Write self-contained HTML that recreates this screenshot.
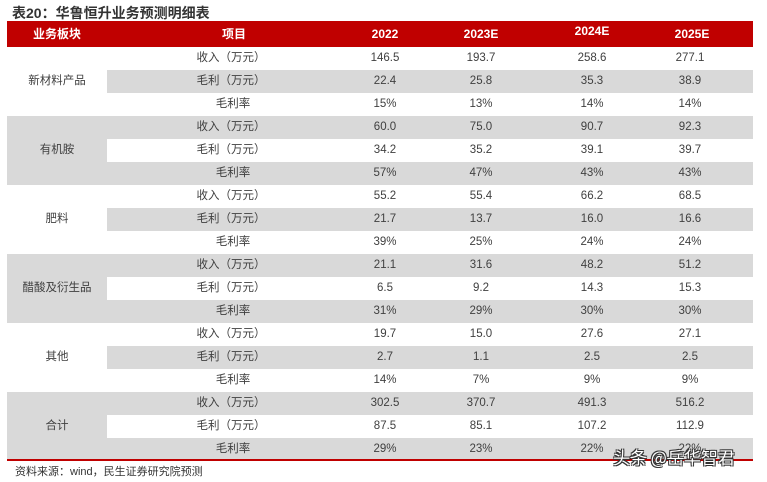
<!DOCTYPE html>
<html><head><meta charset="utf-8">
<style>
*{margin:0;padding:0;box-sizing:border-box}
html,body{width:767px;height:482px;background:#fff;overflow:hidden;position:relative;font-family:"Liberation Sans","Noto Sans CJK SC",sans-serif}
.t{position:absolute;left:12px;top:3px;font-size:14px;font-weight:bold;color:#333;line-height:20px;white-space:nowrap}
.hd{position:absolute;left:7px;top:21px;width:746px;height:26px;background:#c00000}
.h{position:absolute;width:100px;text-align:center;color:#fff;font-weight:bold;font-size:12px;line-height:16px;top:26px;white-space:nowrap}
.g{position:absolute;background:#d9d9d9}
.c{position:absolute;width:100px;text-align:center;height:23px;line-height:23px;font-size:11.5px;color:#404040;white-space:nowrap}
.k{left:181px}.a{left:335px}.b{left:431px}.d{left:542px}.e{left:640px}
.gl{position:absolute;left:7px;width:100px;height:69px;line-height:69px;text-align:center;font-size:11.5px;color:#404040}
.rl{position:absolute;left:7px;top:459px;width:746px;height:2px;background:#c00000}
.f{position:absolute;left:15px;top:464px;font-size:11px;color:#333;line-height:16px;white-space:nowrap}
.w{position:absolute;left:613px;top:446px;font-size:17px;color:#fff;line-height:22px;white-space:nowrap;font-family:"Noto Sans CJK SC",sans-serif;text-shadow:-1px -1px 0 #333,1px -1px 0 #333,-1px 1px 0 #333,1px 1px 0 #333}
</style></head><body>
<div class="t">表20：华鲁恒升业务预测明细表</div>
<div class="hd"></div>
<div class="h" style="left:7px">业务板块</div>
<div class="h" style="left:184px">项目</div>
<div class="h" style="left:335px">2022</div>
<div class="h" style="left:431px">2023E</div>
<div class="h" style="left:542px;top:23px">2024E</div>
<div class="h" style="left:642px">2025E</div>

<!-- stripes -->
<div class="g" style="left:107px;top:70px;width:646px;height:23px"></div>
<div class="g" style="left:7px;top:116px;width:746px;height:23px"></div>
<div class="g" style="left:7px;top:139px;width:100px;height:23px"></div>
<div class="g" style="left:7px;top:162px;width:746px;height:23px"></div>
<div class="g" style="left:107px;top:208px;width:646px;height:23px"></div>
<div class="g" style="left:7px;top:254px;width:746px;height:23px"></div>
<div class="g" style="left:7px;top:277px;width:100px;height:23px"></div>
<div class="g" style="left:7px;top:300px;width:746px;height:23px"></div>
<div class="g" style="left:107px;top:346px;width:646px;height:23px"></div>
<div class="g" style="left:7px;top:392px;width:746px;height:23px"></div>
<div class="g" style="left:7px;top:415px;width:100px;height:23px"></div>
<div class="g" style="left:7px;top:438px;width:746px;height:23px"></div>

<div class="gl" style="top:47px">新材料产品</div>
<div class="gl" style="top:116px">有机胺</div>
<div class="gl" style="top:185px">肥料</div>
<div class="gl" style="top:254px">醋酸及衍生品</div>
<div class="gl" style="top:323px">其他</div>
<div class="gl" style="top:392px">合计</div>

<!-- group 1 -->
<div class="c k" style="top:47px">收入（万元）</div><div class="c a" style="top:47px">146.5</div><div class="c b" style="top:47px">193.7</div><div class="c d" style="top:47px">258.6</div><div class="c e" style="top:47px">277.1</div>
<div class="c k" style="top:70px">毛利（万元）</div><div class="c a" style="top:70px">22.4</div><div class="c b" style="top:70px">25.8</div><div class="c d" style="top:70px">35.3</div><div class="c e" style="top:70px">38.9</div>
<div class="c k" style="top:93px;left:183px">毛利率</div><div class="c a" style="top:93px">15%</div><div class="c b" style="top:93px">13%</div><div class="c d" style="top:93px">14%</div><div class="c e" style="top:93px">14%</div>
<!-- group 2 -->
<div class="c k" style="top:116px">收入（万元）</div><div class="c a" style="top:116px">60.0</div><div class="c b" style="top:116px">75.0</div><div class="c d" style="top:116px">90.7</div><div class="c e" style="top:116px">92.3</div>
<div class="c k" style="top:139px">毛利（万元）</div><div class="c a" style="top:139px">34.2</div><div class="c b" style="top:139px">35.2</div><div class="c d" style="top:139px">39.1</div><div class="c e" style="top:139px">39.7</div>
<div class="c k" style="top:162px;left:183px">毛利率</div><div class="c a" style="top:162px">57%</div><div class="c b" style="top:162px">47%</div><div class="c d" style="top:162px">43%</div><div class="c e" style="top:162px">43%</div>
<!-- group 3 -->
<div class="c k" style="top:185px">收入（万元）</div><div class="c a" style="top:185px">55.2</div><div class="c b" style="top:185px">55.4</div><div class="c d" style="top:185px">66.2</div><div class="c e" style="top:185px">68.5</div>
<div class="c k" style="top:208px">毛利（万元）</div><div class="c a" style="top:208px">21.7</div><div class="c b" style="top:208px">13.7</div><div class="c d" style="top:208px">16.0</div><div class="c e" style="top:208px">16.6</div>
<div class="c k" style="top:231px;left:183px">毛利率</div><div class="c a" style="top:231px">39%</div><div class="c b" style="top:231px">25%</div><div class="c d" style="top:231px">24%</div><div class="c e" style="top:231px">24%</div>
<!-- group 4 -->
<div class="c k" style="top:254px">收入（万元）</div><div class="c a" style="top:254px">21.1</div><div class="c b" style="top:254px">31.6</div><div class="c d" style="top:254px">48.2</div><div class="c e" style="top:254px">51.2</div>
<div class="c k" style="top:277px">毛利（万元）</div><div class="c a" style="top:277px">6.5</div><div class="c b" style="top:277px">9.2</div><div class="c d" style="top:277px">14.3</div><div class="c e" style="top:277px">15.3</div>
<div class="c k" style="top:300px;left:183px">毛利率</div><div class="c a" style="top:300px">31%</div><div class="c b" style="top:300px">29%</div><div class="c d" style="top:300px">30%</div><div class="c e" style="top:300px">30%</div>
<!-- group 5 -->
<div class="c k" style="top:323px">收入（万元）</div><div class="c a" style="top:323px">19.7</div><div class="c b" style="top:323px">15.0</div><div class="c d" style="top:323px">27.6</div><div class="c e" style="top:323px">27.1</div>
<div class="c k" style="top:346px">毛利（万元）</div><div class="c a" style="top:346px">2.7</div><div class="c b" style="top:346px">1.1</div><div class="c d" style="top:346px">2.5</div><div class="c e" style="top:346px">2.5</div>
<div class="c k" style="top:369px;left:183px">毛利率</div><div class="c a" style="top:369px">14%</div><div class="c b" style="top:369px">7%</div><div class="c d" style="top:369px">9%</div><div class="c e" style="top:369px">9%</div>
<!-- group 6 -->
<div class="c k" style="top:392px">收入（万元）</div><div class="c a" style="top:392px">302.5</div><div class="c b" style="top:392px">370.7</div><div class="c d" style="top:392px">491.3</div><div class="c e" style="top:392px">516.2</div>
<div class="c k" style="top:415px">毛利（万元）</div><div class="c a" style="top:415px">87.5</div><div class="c b" style="top:415px">85.1</div><div class="c d" style="top:415px">107.2</div><div class="c e" style="top:415px">112.9</div>
<div class="c k" style="top:438px;left:183px">毛利率</div><div class="c a" style="top:438px">29%</div><div class="c b" style="top:438px">23%</div><div class="c d" style="top:438px">22%</div><div class="c e" style="top:438px">22%</div>

<div class="rl"></div>
<div class="f">资料来源：wind，民生证券研究院预测</div>
<div class="w">头条 @岳华智君</div>
</body></html>
